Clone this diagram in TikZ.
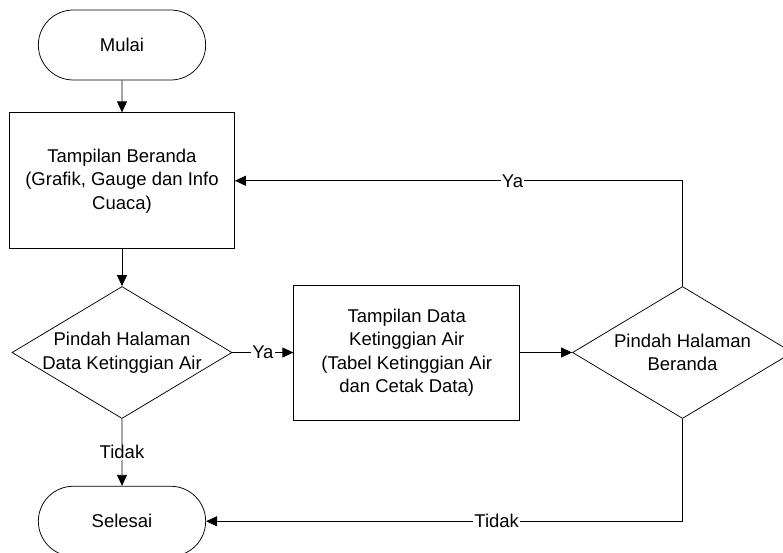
\documentclass[tikz,border=0pt]{standalone}
\usepackage{fontspec}
\setmainfont{Liberation Sans}
\usetikzlibrary{positioning,shapes.geometric,shapes.misc,arrows.meta}

\tikzset{
  every node/.style={font=\fontsize{18.5}{23.5}\selectfont},
  terminal/.style={draw, rounded rectangle, minimum width=174pt, minimum height=70pt, line width=0.75pt},
  process/.style={draw, rectangle, minimum width=225pt, minimum height=136pt, align=center, line width=0.75pt},
  decision/.style={draw, diamond, minimum width=220pt, minimum height=132pt, inner sep=0pt, line width=0.75pt},
  arrow/.style={-{Triangle[length=11pt,width=10pt]}, line width=0.8pt},
  lbl/.style={fill=white, inner sep=1pt},
}

\begin{document}
\begin{tikzpicture}[x=1pt,y=-1pt]
  \useasboundingbox (0,0) rectangle (783,552);

  % Nodes
  \node[terminal] (mulai) at (122,45) {Mulai};
  \node[process, below=32pt of mulai] (beranda) {Tampilan Beranda\\(Grafik, Gauge dan Info\\Cuaca)};
  \node[decision, below=37pt of beranda,
        label={[align=center]center:Pindah Halaman\\Data Ketinggian Air}] (pindah1) {};
  \node[process, right=61pt of pindah1, minimum width=226pt, minimum height=135pt] (tabel)
    {Tampilan Data\\Ketinggian Air\\(Tabel Ketinggian Air\\dan Cetak Data)};
  \node[decision, right=52pt of tabel,
        label={[align=center]center:Pindah Halaman\\Beranda}] (pindah2) {};
  \node[terminal, below=67pt of pindah1] (selesai) {Selesai};

  % Edges
  \draw[arrow] (mulai) -- (beranda);
  \draw[arrow] (beranda) -- (pindah1);
  \draw[arrow] (pindah1) -- node[lbl] {Ya} (tabel);
  \draw[arrow] (tabel) -- (pindah2);
  \draw[arrow] (pindah1) -- node[lbl] {Tidak} (selesai);
  \draw[arrow] (pindah2.north) |- node[lbl, pos=0.69] {Ya} (beranda.east);
  \draw[arrow] (pindah2.south) |- node[lbl, pos=0.695] {Tidak} (selesai.east);
\end{tikzpicture}
\end{document}
